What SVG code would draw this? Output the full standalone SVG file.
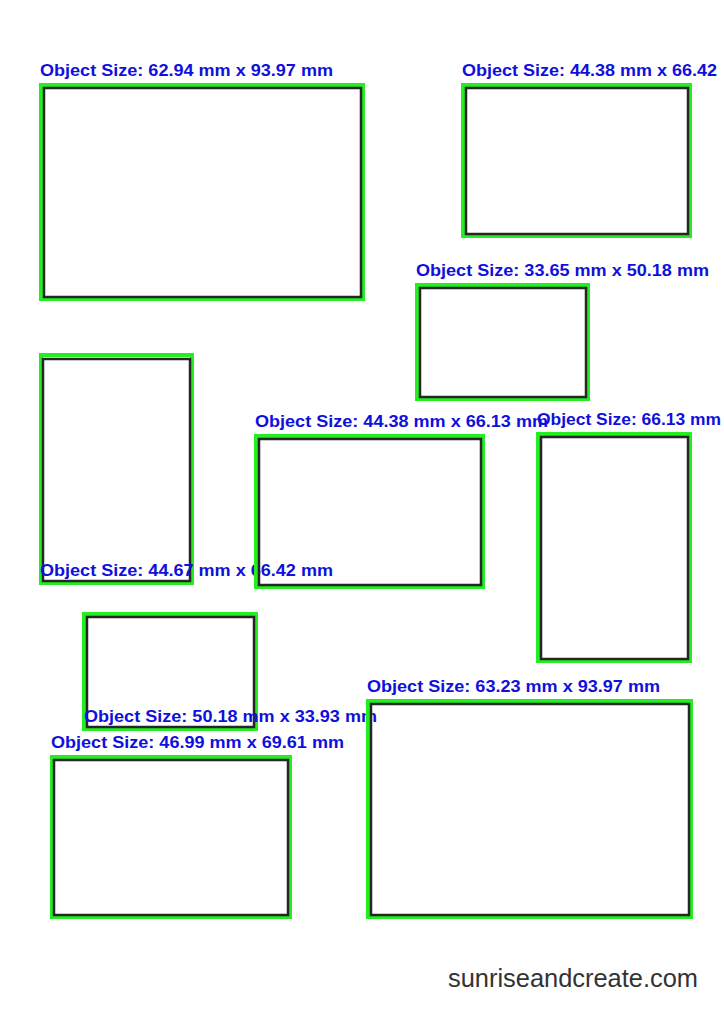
<svg xmlns="http://www.w3.org/2000/svg" width="724" height="1024" viewBox="0 0 724 1024">
<style>
.g{fill:none;stroke:#22ee22;stroke-width:4}
.k{fill:none;stroke:#262626;stroke-width:2.5}
.t{font-family:"Liberation Sans",Arial,sans-serif;font-weight:bold;font-size:16px;fill:#1010dd}
.w{font-family:"Liberation Sans",Arial,sans-serif;font-size:25px;fill:#333333}
</style>
<rect width="724" height="1024" fill="#ffffff"/>
<g id="obj1">
<rect class="g" x="41" y="85" width="322" height="214"/>
<rect class="k" x="44" y="88" width="317" height="209"/>
<text class="t" x="40" y="76" textLength="293" lengthAdjust="spacingAndGlyphs">Object Size: 62.94 mm x 93.97 mm</text>
</g>
<g id="obj2">
<rect class="g" x="463" y="85" width="227" height="151"/>
<rect class="k" x="466" y="88" width="222" height="146"/>
<text class="t" x="462" y="76" textLength="255" lengthAdjust="spacingAndGlyphs">Object Size: 44.38 mm x 66.42</text>
</g>
<g id="obj3">
<rect class="g" x="417" y="285" width="171" height="114"/>
<rect class="k" x="420" y="288" width="166" height="109"/>
<text class="t" x="416" y="276" textLength="293" lengthAdjust="spacingAndGlyphs">Object Size: 33.65 mm x 50.18 mm</text>
</g>
<g id="obj4">
<rect class="g" x="41" y="355" width="151" height="228"/>
<rect class="k" x="43" y="359" width="147" height="222"/>
<text class="t" x="40" y="576" textLength="293" lengthAdjust="spacingAndGlyphs">Object Size: 44.67 mm x 66.42 mm</text>
</g>
<g id="obj5">
<rect class="g" x="256" y="436" width="227" height="151"/>
<rect class="k" x="259" y="439" width="222" height="146"/>
<text class="t" x="255" y="427" textLength="293" lengthAdjust="spacingAndGlyphs">Object Size: 44.38 mm x 66.13 mm</text>
</g>
<g id="obj6">
<rect class="g" x="538" y="434" width="152" height="227"/>
<rect class="k" x="541" y="437" width="147" height="222"/>
<text class="t" x="537" y="425" textLength="184" lengthAdjust="spacingAndGlyphs">Object Size: 66.13 mm</text>
</g>
<g id="obj7">
<rect class="g" x="84" y="614" width="172" height="115"/>
<rect class="k" x="87" y="617" width="167" height="110"/>
<text class="t" x="84" y="722" textLength="293" lengthAdjust="spacingAndGlyphs">Object Size: 50.18 mm x 33.93 mm</text>
</g>
<g id="obj8">
<rect class="g" x="52" y="757" width="238" height="160"/>
<rect class="k" x="54" y="760" width="234" height="155"/>
<text class="t" x="51" y="748" textLength="293" lengthAdjust="spacingAndGlyphs">Object Size: 46.99 mm x 69.61 mm</text>
</g>
<g id="obj9">
<rect class="g" x="368" y="701" width="323" height="216"/>
<rect class="k" x="371" y="704" width="318" height="211"/>
<text class="t" x="367" y="692" textLength="293" lengthAdjust="spacingAndGlyphs">Object Size: 63.23 mm x 93.97 mm</text>
</g>
<g id="connectors"></g>
<text class="w" x="448" y="987" textLength="250" lengthAdjust="spacingAndGlyphs">sunriseandcreate.com</text>
</svg>
